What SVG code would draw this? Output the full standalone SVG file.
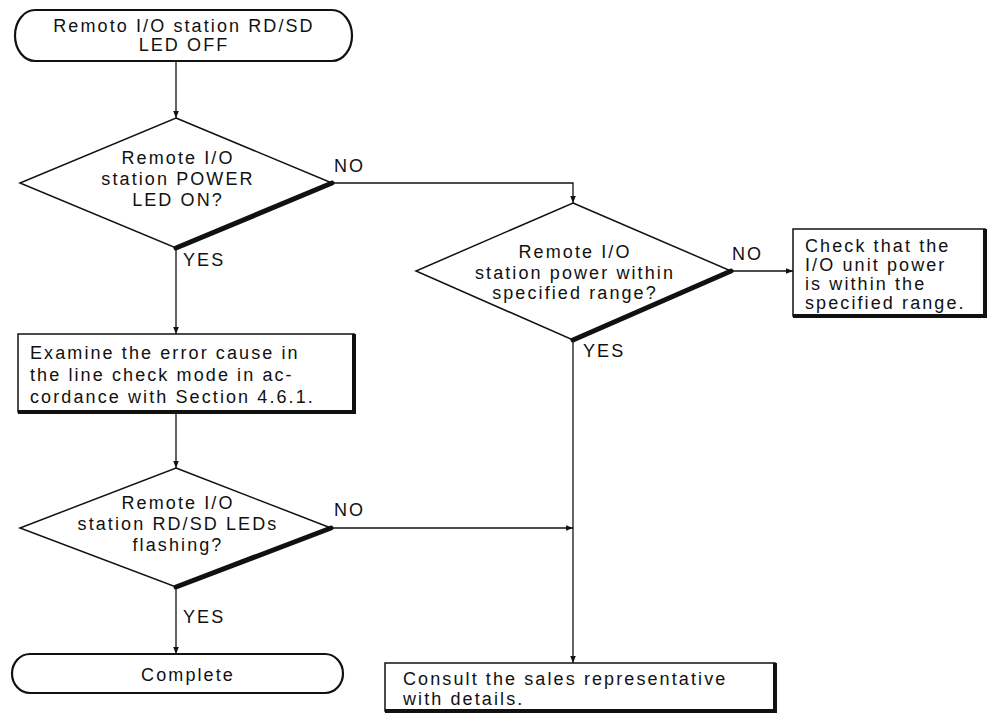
<svg xmlns="http://www.w3.org/2000/svg" width="990" height="720" viewBox="0 0 990 720">
<style>
text{font-family:"Liberation Sans",Arial,sans-serif;font-size:18px;letter-spacing:2.1px;fill:#111}
.c{text-anchor:middle}
.node{fill:#fff;stroke:#111;stroke-width:1.5}
.term{fill:#fff;stroke:#111;stroke-width:2.2}
.thick{stroke:#111;stroke-width:5;fill:none;stroke-linecap:round}
.shadow{stroke:#111;stroke-width:4;fill:none}
.conn{stroke:#111;stroke-width:1.3;fill:none;marker-end:url(#arr)}
</style>
<defs>
<marker id="arr" viewBox="0 0 10 10" refX="10" refY="5" markerWidth="7" markerHeight="7" markerUnits="userSpaceOnUse" orient="auto">
<path d="M0,1 L10,5 L0,9 z" fill="#111"/>
</marker>
</defs>
<rect width="990" height="720" fill="#fff"/>
<g id="connectors">
<path class="conn" d="M176,61 V118"/>
<path class="conn" d="M176,248 V334"/>
<path class="conn" d="M176,412 V468"/>
<path class="conn" d="M176,587 V654"/>
<path class="conn" d="M332,183 H573 V203"/>
<path class="conn" d="M731,271 H793"/>
<path class="conn" d="M573,340 V663"/>
<path class="conn" d="M331,528 H573"/>
<text x="334" y="172">NO</text>
<text x="183" y="266">YES</text>
<text x="732" y="260">NO</text>
<text x="583" y="357">YES</text>
<text x="334" y="516">NO</text>
<text x="183" y="623">YES</text>
</g>
<g id="start">
<rect class="term" x="15" y="10" width="337" height="51" rx="20" ry="25.5"/>
<text class="c" x="184" y="32">Remoto I/O station RD/SD</text>
<text class="c" x="184" y="51">LED OFF</text>
</g>
<g id="d1">
<polygon class="node" points="176,118 332,183 176,248 20,183"/>
<line class="thick" x1="332" y1="183" x2="176" y2="248"/>
<text class="c" x="178" y="164">Remote I/O</text>
<text class="c" x="178" y="185">station POWER</text>
<text class="c" x="178" y="206">LED ON?</text>
</g>
<g id="d2">
<polygon class="node" points="573,203 731,271 573,340 416,271"/>
<line class="thick" x1="731" y1="271" x2="573" y2="340"/>
<text class="c" x="575" y="258">Remote I/O</text>
<text class="c" x="575" y="279">station power within</text>
<text class="c" x="575" y="299">specified range?</text>
</g>
<g id="check">
<rect class="node" x="793" y="229" width="192" height="87"/>
<path class="shadow" d="M985,229 V316 H793"/>
<text x="805" y="252">Check that the</text>
<text x="805" y="271">I/O unit power</text>
<text x="805" y="290">is within the</text>
<text x="805" y="309">specified range.</text>
</g>
<g id="examine">
<rect class="node" x="18" y="334" width="336" height="78"/>
<path class="shadow" d="M354,334 V412 H18"/>
<text x="30" y="359">Examine the error cause in</text>
<text x="30" y="381">the line check mode in ac-</text>
<text x="30" y="403">cordance with Section 4.6.1.</text>
</g>
<g id="d3">
<polygon class="node" points="176,468 331,528 176,587 20,528"/>
<line class="thick" x1="331" y1="528" x2="176" y2="587"/>
<text class="c" x="178" y="509">Remote I/O</text>
<text class="c" x="178" y="530">station RD/SD LEDs</text>
<text class="c" x="178" y="551">flashing?</text>
</g>
<g id="complete">
<rect class="term" x="12" y="654" width="331" height="39" rx="18" ry="19.5"/>
<text class="c" x="188" y="681">Complete</text>
</g>
<g id="consult">
<rect class="node" x="385" y="663" width="390" height="48"/>
<path class="shadow" d="M775,663 V711 H385"/>
<text x="403" y="685">Consult the sales representative</text>
<text x="403" y="705">with details.</text>
</g>
</svg>
